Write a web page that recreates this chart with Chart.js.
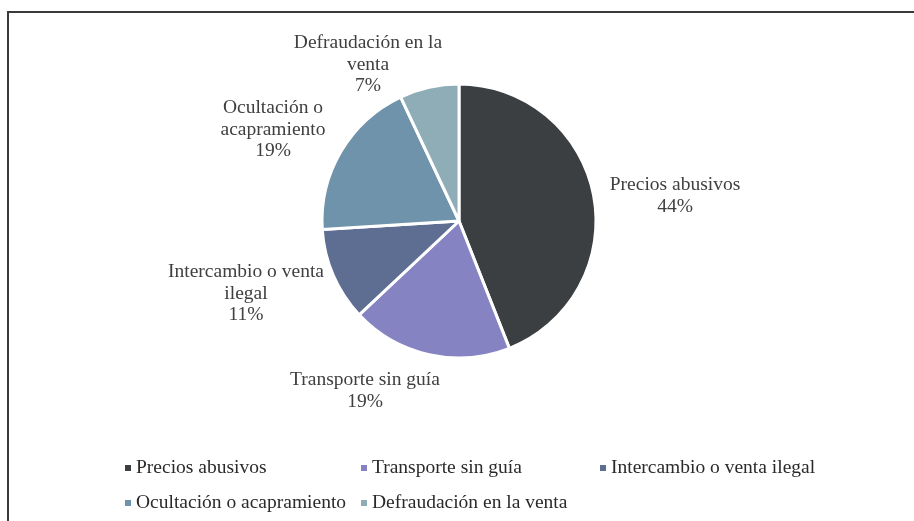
<!DOCTYPE html>
<html>
<head>
<meta charset="utf-8">
<script src="https://cdn.jsdelivr.net/npm/chart.js@4.4.1/dist/chart.umd.min.js"></script>
<style>
  html, body { margin: 0; padding: 0; background: #fff; }
  #wrap { position: relative; width: 914px; height: 521px; }
  #frame {
    position: absolute; left: 7px; top: 11px; right: 0; bottom: 0;
    border-top: 2px solid #3a3a3a; border-left: 2px solid #3a3a3a;
  }
  canvas { position: absolute; left: 0; top: 0; }
</style>
</head>
<body>
<div id="wrap">
  <div id="frame"></div>
  <canvas id="pieChart" width="914" height="521"></canvas>
</div>
<script>
// Categories and shares (%)
const categories = ['Precios abusivos', 'Transporte sin guía', 'Intercambio o venta ilegal', 'Ocultación o acapramiento', 'Defraudación en la venta'];
const shares = [44, 19, 11, 19, 7];
// How the slice labels wrap in the picture
const labelLines = [
  ['Precios abusivos'],
  ['Transporte sin guía'],
  ['Intercambio o venta', 'ilegal'],
  ['Ocultación o', 'acapramiento'],
  ['Defraudación en la', 'venta']
];
const colors = ['#3b3f42', '#8683c3', '#5e6d92', '#6e93aa', '#8fadb6'];

// top-center of each label block, relative to the pie centre (px)
const labelOffsets = [[216, -36], [-94, 159], [-213, 51], [-186, -113], [-91, -178]];

const FONT = '19.5px "Liberation Serif", "Times New Roman", serif';

// Draws the outside labels and the two-row legend
const labelPlugin = {
  id: 'sliceLabels',
  afterDraw: function(chart) {
    const ctx = chart.ctx;
    const arcs = chart.getDatasetMeta(0).data;
    const values = chart.data.datasets[0].data;
    ctx.save();
    ctx.font = FONT;
    ctx.textAlign = 'center';
    ctx.textBaseline = 'middle';
    ctx.fillStyle = '#404040';
    arcs.forEach(function(arc, i) {
      const lines = labelLines[i].concat([values[i] + '%']);
      const x = arc.x + labelOffsets[i][0];
      let y = arc.y + labelOffsets[i][1];
      lines.forEach(function(line) {
        ctx.fillText(line, x, y);
        y += 21.5;
      });
    });

    // legend: grid of three columns
    ctx.textAlign = 'left';
    const colX = [125, 361, 600];
    const rowY = [468, 503];
    chart.data.labels.forEach(function(label, i) {
      const col = i % 3;
      const row = Math.floor(i / 3);
      const x = colX[col];
      const y = rowY[row];
      ctx.fillStyle = colors[i];
      ctx.fillRect(x, y - 3, 6, 6);
      ctx.fillStyle = '#2a2a2a';
      ctx.fillText(label, x + 11, y);
    });
    ctx.restore();
  }
};

new Chart(document.getElementById('pieChart'), {
  type: 'pie',
  data: {
    labels: categories,
    datasets: [{
      data: shares,
      backgroundColor: colors,
      borderColor: '#ffffff',
      borderWidth: 3,
      radius: 137
    }]
  },
  options: {
    responsive: false,
    animation: false,
    layout: { padding: { left: 4, right: 0, top: 0, bottom: 79 } },
    plugins: {
      legend: { display: false },
      tooltip: { enabled: false }
    }
  },
  plugins: [labelPlugin]
});
</script>
</body>
</html>
